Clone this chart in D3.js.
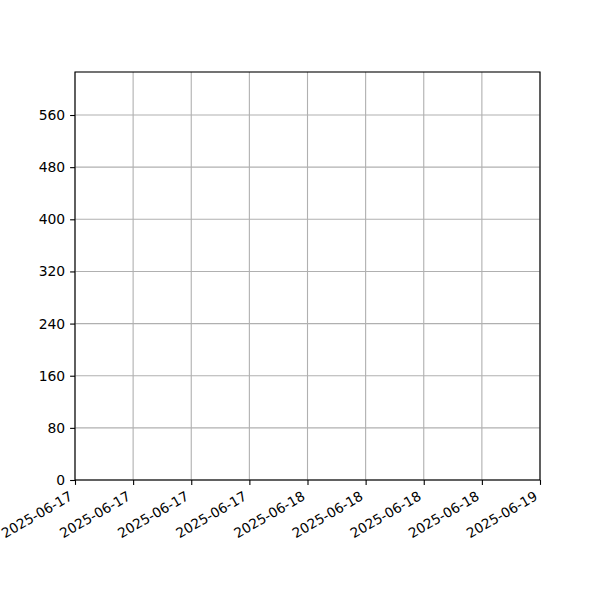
<!DOCTYPE html>
<html>
<head>
<meta charset="utf-8">
<script src="https://cdn.jsdelivr.net/npm/d3@7"></script>
<style>
  html, body { margin: 0; padding: 0; background: #fff; }
  svg { display: block; }
  text { font-family: "DejaVu Sans", sans-serif; font-size: 13.9px; fill: #000; }
</style>
</head>
<body>
<svg id="chart" width="600" height="600"></svg>
<script>
// Data (the chart is empty: no series points)
const seriesTimes = [];
const seriesValues = [];
const xDomain = ["2025-06-17T00:00:00Z", "2025-06-19T00:00:00Z"];
const yDomain = [0, 626];
const xTickTimes = [
  "2025-06-17T00:00:00Z", "2025-06-17T06:00:00Z", "2025-06-17T12:00:00Z", "2025-06-17T18:00:00Z",
  "2025-06-18T00:00:00Z", "2025-06-18T06:00:00Z", "2025-06-18T12:00:00Z", "2025-06-18T18:00:00Z",
  "2025-06-19T00:00:00Z"
];
const yTickValues = [0, 80, 160, 240, 320, 400, 480, 560];

const W = 600, H = 600;
const margin = { left: 75, right: 60, top: 72, bottom: 120 };
const svg = d3.select("#chart");
svg.append("rect").attr("width", W).attr("height", H).attr("fill", "#fff");

const x = d3.scaleUtc()
  .domain(xDomain.map(d => new Date(d)))
  .range([margin.left, W - margin.right]);
const y = d3.scaleLinear()
  .domain(yDomain)
  .range([H - margin.bottom, margin.top]);

const xTicks = xTickTimes.map(d => new Date(d));
const fmt = d3.utcFormat("%Y-%m-%d");

// grid
const grid = svg.append("g");
grid.selectAll("line.vx").data(xTicks).join("line")
  .attr("x1", d => x(d)).attr("x2", d => x(d))
  .attr("y1", margin.top).attr("y2", H - margin.bottom)
  .attr("stroke", "#b0b0b0").attr("stroke-width", 1.1);
grid.selectAll("line.hy").data(yTickValues).join("line")
  .attr("x1", margin.left).attr("x2", W - margin.right)
  .attr("y1", d => y(d)).attr("y2", d => y(d))
  .attr("stroke", "#b0b0b0").attr("stroke-width", 1.1);

// series (empty)
const line = d3.line().x((d, i) => x(new Date(seriesTimes[i]))).y(d => y(d));
svg.append("path").datum(seriesValues).attr("d", seriesValues.length ? line : null)
  .attr("fill", "none").attr("stroke", "#1f77b4").attr("stroke-width", 2);

// x axis
const xAxis = svg.append("g")
  .attr("transform", `translate(0,${H - margin.bottom})`)
  .call(d3.axisBottom(x).tickValues(xTicks).tickFormat(fmt).tickSize(4.9).tickPadding(4.9).tickSizeOuter(0));
xAxis.select(".domain").remove();
xAxis.selectAll(".tick line").attr("stroke", "#000").attr("stroke-width", 1.1);
xAxis.selectAll(".tick text")
  .attr("text-anchor", "end")
  .attr("dy", null)
  .attr("y", null)
  .attr("transform", "translate(-2,19) rotate(-30)")
  .style("font-family", "DejaVu Sans").style("font-size", "13.6px");

// y axis
const yAxis = svg.append("g")
  .attr("transform", `translate(${margin.left},0)`)
  .call(d3.axisLeft(y).tickValues(yTickValues).tickSize(4.9).tickPadding(4.9).tickSizeOuter(0));
yAxis.select(".domain").remove();
yAxis.selectAll(".tick line").attr("stroke", "#000").attr("stroke-width", 1.1);
yAxis.selectAll(".tick text").style("font-family", "DejaVu Sans").style("font-size", "13.9px");

// frame
svg.append("rect")
  .attr("x", margin.left).attr("y", margin.top)
  .attr("width", W - margin.left - margin.right)
  .attr("height", H - margin.top - margin.bottom)
  .attr("fill", "none").attr("stroke", "#000").attr("stroke-width", 1.1);
</script>
</body>
</html>
